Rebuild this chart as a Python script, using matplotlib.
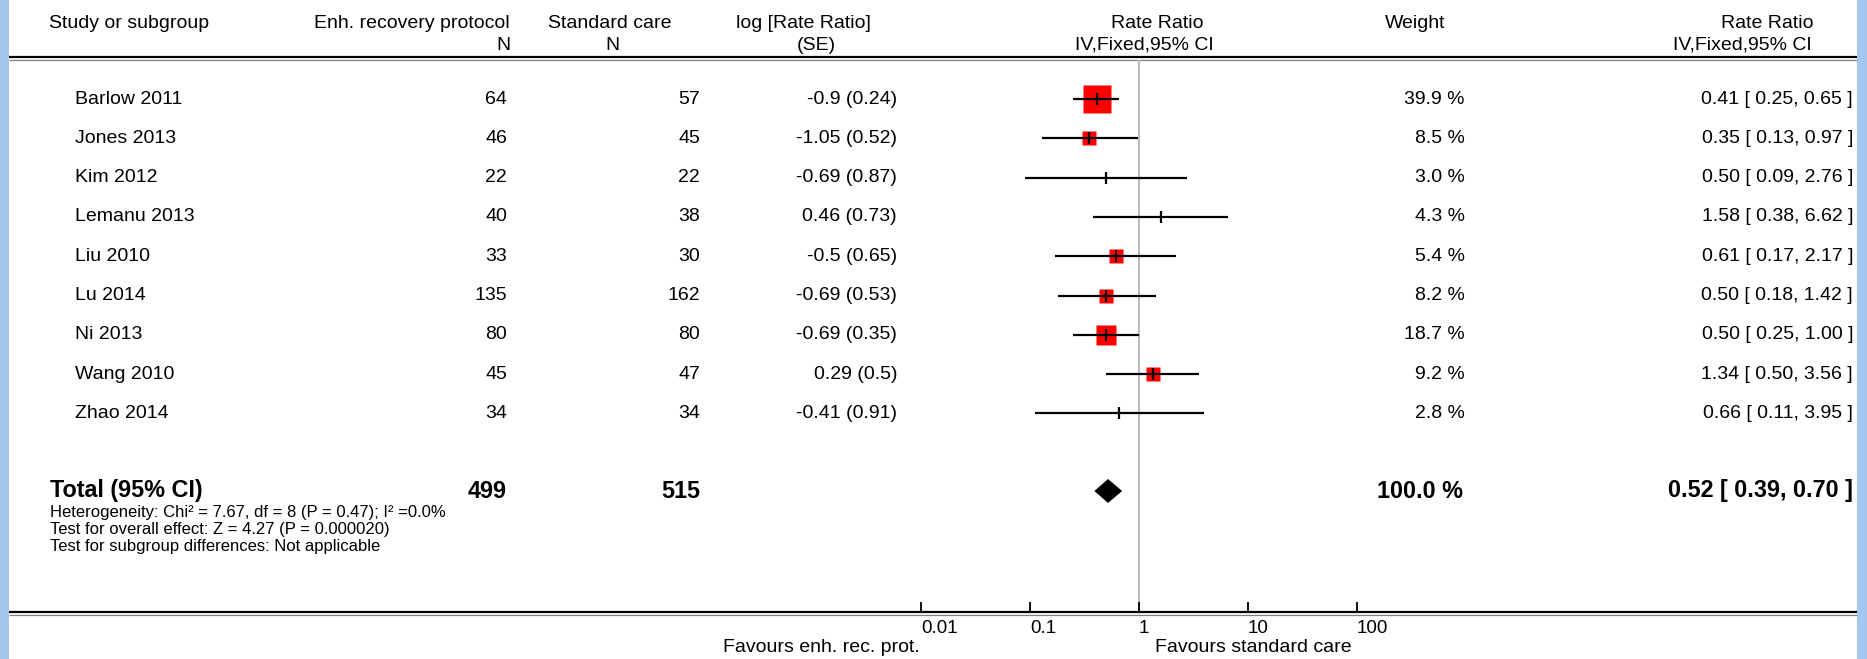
import matplotlib
matplotlib.use("Agg")
import matplotlib.pyplot as plt
from matplotlib.patches import Rectangle
from matplotlib.ticker import NullLocator
import numpy as np

# ---- data ----
studies = ["Barlow 2011", "Jones 2013", "Kim 2012", "Lemanu 2013", "Liu 2010",
           "Lu 2014", "Ni 2013", "Wang 2010", "Zhao 2014"]
n_erp = [64, 46, 22, 40, 33, 135, 80, 45, 34]
n_std = [57, 45, 22, 38, 30, 162, 80, 47, 34]
log_rr = [-0.9, -1.05, -0.69, 0.46, -0.5, -0.69, -0.69, 0.29, -0.41]
log_se = [0.24, 0.52, 0.87, 0.73, 0.65, 0.53, 0.35, 0.5, 0.91]
weights = [39.9, 8.5, 3.0, 4.3, 5.4, 8.2, 18.7, 9.2, 2.8]
rr = [0.41, 0.35, 0.50, 1.58, 0.61, 0.50, 0.50, 1.34, 0.66]
rr_lo = [0.25, 0.13, 0.09, 0.38, 0.17, 0.18, 0.25, 0.50, 0.11]
rr_hi = [0.65, 0.97, 2.76, 6.62, 2.17, 1.42, 1.00, 3.56, 3.95]

total_erp, total_std = 499, 515
total_weight = 100.0
total_rr, total_lo, total_hi = 0.52, 0.39, 0.70

stats_lines = [
    "Heterogeneity: Chi\u00b2 = 7.67, df = 8 (P = 0.47); I\u00b2 =0.0%",
    "Test for overall effect: Z = 4.27 (P = 0.000020)",
    "Test for subgroup differences: Not applicable",
]
tick_vals = [0.01, 0.1, 1, 10, 100]
tick_labels = ["0.01", "0.1", "1", "10", "100"]

# ---- layout (pixels) ----
W, H = 1867, 659
plt.rcParams['font.family'] = ['Liberation Sans', 'DejaVu Sans']
fs = 14
fs_bold = 16.8
fs_small = 12

fig = plt.figure(figsize=(W / 100, H / 100), dpi=100)
bg = fig.add_axes([0, 0, 1, 1])
bg.set_xlim(0, W)
bg.set_ylim(H, 0)
bg.axis('off')

border = "#a6c6ef"
bg.add_patch(Rectangle((0, 0), 9, H, color=border, lw=0))
bg.add_patch(Rectangle((1857, 0), W - 1857, H, color=border, lw=0))

x_left, x_right = 9, 1857
y_top, y_bot = 57, 612
for yy, c, lw in [(y_top, "black", 1.6), (y_top + 2.6, "#808080", 0.9),
                  (y_bot, "black", 1.6), (y_bot + 2.6, "#808080", 0.9)]:
    bg.plot([x_left, x_right], [yy, yy], color=c, lw=lw, solid_capstyle='butt')

# headers
hy1, hy2 = 23, 45
bg.text(49, hy1, "Study or subgroup", fontsize=fs, va='center', ha='left')
bg.text(510, hy1, "Enh. recovery protocol", fontsize=fs, va='center', ha='right')
bg.text(510, hy2, "N", fontsize=fs, va='center', ha='right')
bg.text(610, hy1, "Standard care", fontsize=fs, va='center', ha='center')
bg.text(612, hy2, "N", fontsize=fs, va='center', ha='center')
bg.text(803, hy1, "log [Rate Ratio]", fontsize=fs, va='center', ha='center')
bg.text(816, hy2, "(SE)", fontsize=fs, va='center', ha='center')
bg.text(1157, hy1, "Rate Ratio", fontsize=fs, va='center', ha='center')
bg.text(1144, hy2, "IV,Fixed,95% CI", fontsize=fs, va='center', ha='center')
bg.text(1415, hy1, "Weight", fontsize=fs, va='center', ha='center')
bg.text(1767, hy1, "Rate Ratio", fontsize=fs, va='center', ha='center')
bg.text(1742, hy2, "IV,Fixed,95% CI", fontsize=fs, va='center', ha='center')

row0, row_step = 99, 39.3
ys = [row0 + i * row_step for i in range(len(studies))]

for y, name, a, b, lr, se, w, r, lo, hi in zip(ys, studies, n_erp, n_std, log_rr,
                                                log_se, weights, rr, rr_lo, rr_hi):
    bg.text(75, y, name, fontsize=fs, va='center', ha='left')
    bg.text(507, y, str(a), fontsize=fs, va='center', ha='right')
    bg.text(700, y, str(b), fontsize=fs, va='center', ha='right')
    bg.text(897, y, f"{lr:g} ({se:g})", fontsize=fs, va='center', ha='right')
    bg.text(1465, y, f"{w:.1f} %", fontsize=fs, va='center', ha='right')
    bg.text(1853, y, f"{r:.2f} [ {lo:.2f}, {hi:.2f} ]", fontsize=fs, va='center', ha='right')

# total row
ty = 491
bg.text(50, ty, "Total (95% CI)", fontsize=fs_bold, fontweight='bold', va='center', ha='left')
bg.text(507, ty, str(total_erp), fontsize=fs_bold, fontweight='bold', va='center', ha='right')
bg.text(700, ty, str(total_std), fontsize=fs_bold, fontweight='bold', va='center', ha='right')
bg.text(1463, ty, f"{total_weight:.1f} %", fontsize=fs_bold, fontweight='bold', va='center', ha='right')
bg.text(1853, ty, f"{total_rr:.2f} [ {total_lo:.2f}, {total_hi:.2f} ]",
        fontsize=fs_bold, fontweight='bold', va='center', ha='right')
for k, line in enumerate(stats_lines):
    bg.text(50, 512 + k * 17.5, line, fontsize=fs_small, va='center', ha='left')

bg.text(920, 648, "Favours enh. rec. prot.", fontsize=fs, va='center', ha='right')
bg.text(1155, 648, "Favours standard care", fontsize=fs, va='center', ha='left')

# ---- forest panel (log axis) ----
fx0, fx1 = 921, 1357
ax = fig.add_axes([fx0 / W, 1 - y_bot / H, (fx1 - fx0) / W, (y_bot - y_top - 2.6) / H])
ax.set_xscale('log')
ax.set_xlim(0.01, 100)
ax.set_ylim(y_bot, y_top + 2.6)
ax.patch.set_alpha(0)
for s in ax.spines.values():
    s.set_visible(False)
ax.set_yticks([])
ax.set_xticks(tick_vals)
ax.set_xticklabels(tick_labels)
ax.xaxis.set_minor_locator(NullLocator())
ax.tick_params(axis='x', direction='in', length=7, width=1.3, pad=6, labelsize=13.5)
for lab in ax.get_xticklabels():
    lab.set_ha('left')

ax.axvline(1, color="#bcbcbc", lw=1.5, zorder=0)

max_w = max(weights)
px = 0.72  # points per pixel at dpi 100
for y, w, r, lo, hi in zip(ys, weights, rr, rr_lo, rr_hi):
    if w >= 5:
        side = max(14, 28 * np.sqrt(w / max_w))
        ax.plot(r, y, 's', color="#ff0000", ms=side * px, mec='none', zorder=2)
    ax.hlines(y, lo, hi, color="black", lw=1.6, zorder=3)
    ax.plot(r, y, marker='|', color="black", ms=12 * px, mew=1.6, zorder=4)

dh = 12
ax.fill([total_lo, total_rr, total_hi, total_rr], [ty, ty - dh, ty, ty + dh],
        color="black", lw=0, zorder=3)

fig.savefig("out.png", dpi=100)
